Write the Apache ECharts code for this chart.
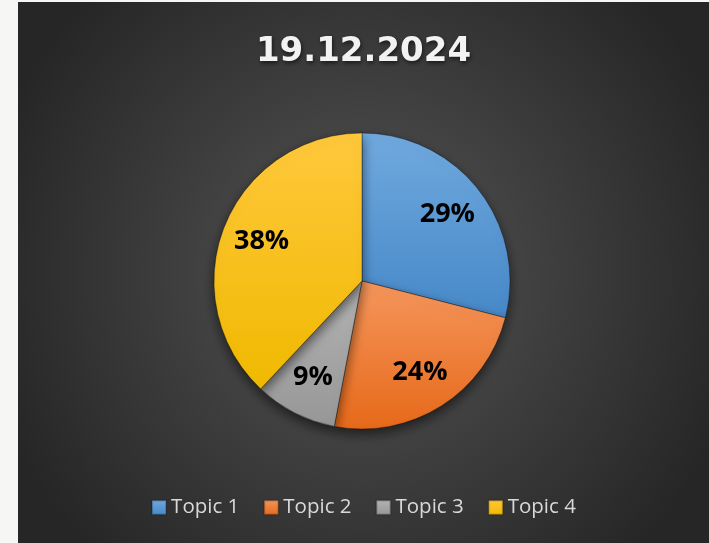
<!DOCTYPE html>
<html>
<head>
<meta charset="utf-8">
<script src="https://cdn.jsdelivr.net/npm/echarts@6/dist/echarts.min.js"></script>
<style>
  html, body { margin: 0; padding: 0; background: #f6f6f4; }
  #main { position: absolute; left: 18px; top: 2px; width: 691px; height: 541px; }
</style>
</head>
<body>
<div id="main"></div>
<script>
var title = '19.12.2024';
var topics = ['Topic 1', 'Topic 2', 'Topic 3', 'Topic 4'];
var values = [29, 24, 9, 38];
// top / bottom shade of each slice
var topColors = ['#70a9de', '#f5965c', '#b3b3b3', '#ffc83c'];
var bottomColors = ['#4688c8', '#e6691a', '#979797', '#f0b900'];

var chart = echarts.init(document.getElementById('main'));

function grad(i) {
  return new echarts.graphic.LinearGradient(0, 0, 0, 1, [
    { offset: 0, color: topColors[i] },
    { offset: 1, color: bottomColors[i] }
  ]);
}

var pieData = topics.map(function (name, i) {
  return { name: name, value: values[i], itemStyle: { color: grad(i) } };
});
var labelData = topics.map(function (name, i) {
  return { name: name, value: values[i] };
});

var option = {
  backgroundColor: new echarts.graphic.RadialGradient(0.5, 0.5, 0.72, [
    { offset: 0, color: '#555555' },
    { offset: 1, color: '#262626' }
  ]),
  title: {
    text: title,
    left: 'center',
    top: 28,
    textStyle: {
      color: '#f2f2f2',
      fontFamily: 'DejaVu Sans',
      fontWeight: 'bold',
      fontSize: 34,
      textShadowColor: 'rgba(0,0,0,0.6)',
      textShadowBlur: 4,
      textShadowOffsetX: 1,
      textShadowOffsetY: 2
    }
  },
  legend: {
    data: topics,
    bottom: 20,
    left: 'center',
    icon: 'rect',
    itemWidth: 14,
    itemHeight: 14,
    itemGap: 24,
    textStyle: { color: '#d9d9d9', fontFamily: 'Open Sans', fontSize: 20.5 }
  },
  series: [
    {
      type: 'pie',
      center: [344, 279],
      radius: 148,
      startAngle: 90,
      clockwise: true,
      silent: true,
      label: { show: false },
      labelLine: { show: false },
      itemStyle: {
        borderColor: 'rgba(0,0,0,0.18)',
        borderWidth: 1,
        shadowColor: 'rgba(0,0,0,0.55)',
        shadowBlur: 12,
        shadowOffsetY: 5
      },
      data: pieData
    },
    {
      // transparent ring, only used to place the labels at ~0.7 of the radius
      type: 'pie',
      center: [344, 279],
      radius: [62, 148],
      startAngle: 90,
      clockwise: true,
      silent: true,
      itemStyle: { color: 'rgba(0,0,0,0)' },
      label: {
        show: true,
        position: 'inside',
        formatter: '{d}%',
        color: '#000',
        fontFamily: 'Open Sans',
        fontWeight: 'bold',
        fontSize: 27
      },
      labelLine: { show: false },
      data: labelData
    }
  ]
};
chart.setOption(option);
</script>
</body>
</html>
